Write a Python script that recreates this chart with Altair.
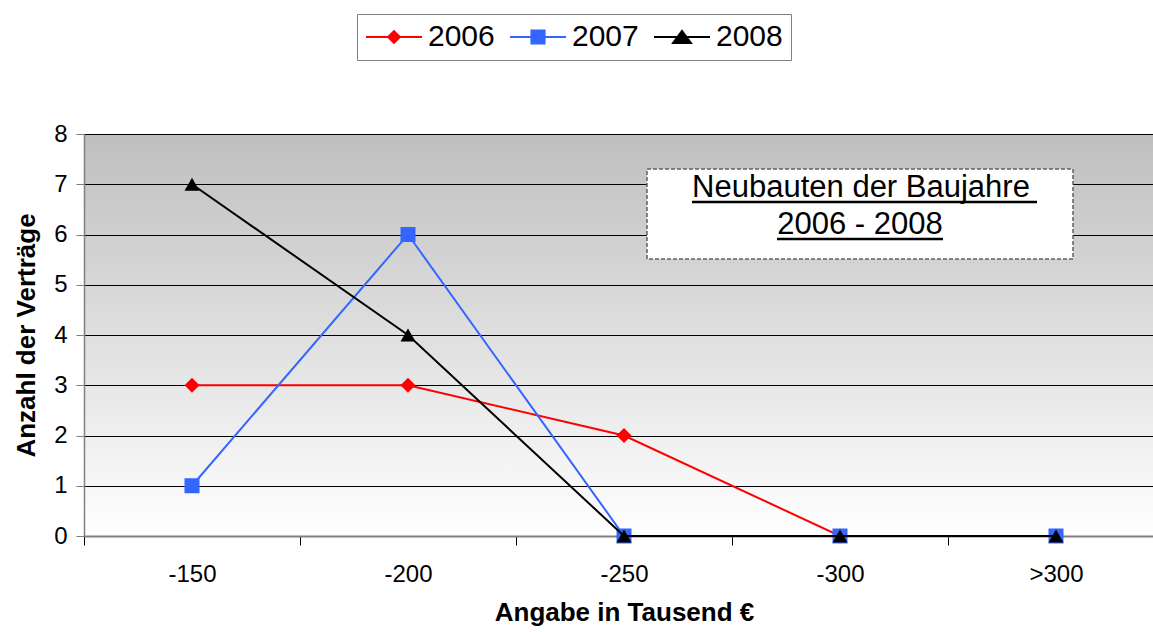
import altair as alt
import pandas as pd

# Price classes (thousand EUR) and number of contracts per construction year
categories = ["-150", "-200", "-250", "-300", ">300"]
years = ["2006", "2007", "2008"]
v2006 = [3, 3, 2, 0, 0]
v2007 = [1, 6, 0, 0, 0]
v2008 = [7, 4, 0, 0, 0]
series_values = [v2006, v2007, v2008]

line_colors = ["#ff0000", "#3366ff", "#000000"]
point_shapes = ["diamond", "square", "triangle-up"]
# legend symbols: a thin line (4 units long) with the marker on top of it
legend_paths = [
    "M-2,-0.07L2,-0.07L2,0.07L-2,0.07Z M0,-0.52L0.52,0L0,0.52L-0.52,0Z",
    "M-2,-0.07L2,-0.07L2,0.07L-2,0.07Z M-0.54,-0.54L0.54,-0.54L0.54,0.54L-0.54,0.54Z",
    "M-2,-0.07L2,-0.07L2,0.07L-2,0.07Z M0,-0.56L0.78,0.5L-0.78,0.5Z",
]
box_lines = ["Neubauten der Baujahre", "2006 - 2008"]

FONT = "Liberation Sans"
W, H = 1069, 402

rows = []
for year, vals in zip(years, series_values):
    for cat, v in zip(categories, vals):
        rows.append({"Jahr": year, "Kategorie": cat, "Anzahl": v})
df = pd.DataFrame(rows)

x_enc = alt.X(
    "Kategorie:N",
    sort=categories,
    scale=alt.Scale(domain=categories, range=[0, 1080], paddingInner=0, paddingOuter=0),
    axis=alt.Axis(
        title="Angabe in Tausend €",
        labelAngle=0,
        tickBand="extent",
        tickSize=9,
        tickColor="#000000",
        domainColor="#808080",
        domainWidth=2,
        labelFontSize=24,
        labelFont=FONT,
        labelColor="#000000",
        labelPadding=17,
        titleFontSize=26,
        titleFont=FONT,
        titleFontWeight="bold",
        titleColor="#000000",
        titlePadding=13,
        grid=False,
    ),
)
y_enc = alt.Y(
    "Anzahl:Q",
    scale=alt.Scale(domain=[0, 8], nice=False),
    axis=alt.Axis(
        title="Anzahl der Verträge",
        values=list(range(9)),
        grid=True,
        gridColor="#000000",
        gridWidth=1,
        tickColor="#808080",
        tickSize=8,
        domainColor="#808080",
        domainWidth=1.5,
        labelFontSize=24,
        labelFont=FONT,
        labelColor="#000000",
        labelPadding=9,
        titleFontSize=26,
        titleFont=FONT,
        titleFontWeight="bold",
        titleColor="#000000",
        titlePadding=14,
    ),
)

layers = []

# annotation box
layers.append(
    alt.Chart(pd.DataFrame({"a": [0]})).mark_rect(
        fill="white", stroke="#606060", strokeWidth=1.5, strokeDash=[4, 2]
    ).encode(x=alt.value(563), x2=alt.value(989), y=alt.value(35), y2=alt.value(125))
)
for txt, tx, ty, ux1, ux2, uy in [
    (box_lines[0], 777, 63, 608, 953, 68),
    (box_lines[1], 776, 100, 693, 859, 105),
]:
    layers.append(
        alt.Chart(pd.DataFrame({"a": [0]})).mark_text(
            text=txt, font=FONT, fontSize=31, color="black", align="center", baseline="alphabetic"
        ).encode(x=alt.value(tx), y=alt.value(ty))
    )
    layers.append(
        alt.Chart(pd.DataFrame({"a": [0]})).mark_rule(color="black", strokeWidth=2.5).encode(
            x=alt.value(ux1), x2=alt.value(ux2), y=alt.value(uy)
        )
    )

# series lines and markers
for year, col, shp in zip(years, line_colors, point_shapes):
    sub = df[df["Jahr"] == year]
    base = alt.Chart(sub)
    layers.append(base.mark_line(color=col, strokeWidth=2).encode(x=x_enc, y=y_enc))
    layers.append(
        base.mark_point(shape=shp, filled=True, color=col, size=225, opacity=1, strokeWidth=0).encode(
            x=x_enc, y=y_enc
        )
    )

# invisible layer that carries the legend
legend = alt.Legend(
    orient="none",
    legendX=273,
    legendY=-120,
    direction="horizontal",
    title=None,
    labelFontSize=30,
    labelFont=FONT,
    labelColor="#000000",
    symbolSize=784,
    symbolStrokeWidth=0,
    symbolOpacity=1,
    symbolOffset=14,
    labelOffset=19,
    columnPadding=14,
    padding=8,
    strokeColor="#808080",
    fillColor="white",
)
layers.append(
    alt.Chart(df).mark_point(filled=True, opacity=0).encode(
        x=x_enc,
        y=y_enc,
        color=alt.Color("Jahr:N", scale=alt.Scale(domain=years, range=line_colors), legend=legend),
        shape=alt.Shape("Jahr:N", scale=alt.Scale(domain=years, range=legend_paths), legend=legend),
    )
)

# vertical grey-to-white gradient behind the plot area
plot_fill = alt.ExprRef(
    expr="{gradient: 'linear', x1: 0, y1: 0, x2: 0, y2: 1, "
    "stops: [{offset: 0, color: '#bfbfbf'}, {offset: 1, color: '#ffffff'}]}"
)

chart = (
    alt.layer(*layers)
    .properties(
        width=W,
        height=H,
        autosize=alt.AutoSizeParams(type="none"),
        padding={"left": 84, "top": 134, "right": 0, "bottom": 96},
        background="white",
    )
    .configure_view(stroke=None, fill=plot_fill)
)

chart.save("out.html", embed_options={"renderer": "svg", "actions": False})
